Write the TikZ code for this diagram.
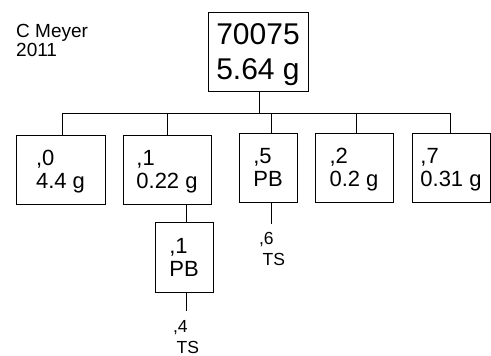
\documentclass[tikz,border=0pt]{standalone}
\usepackage{fontspec}
\setmainfont{Liberation Sans}
\begin{document}
\begin{tikzpicture}[x=1pt,y=-1pt,
  box/.style={draw, line width=1pt, inner sep=0pt, align=left, text depth=0pt, font=\fontsize{22}{23}\selectfont},
  lbl/.style={inner sep=0pt, align=left, text depth=0pt, font=\fontsize{17.5}{21}\selectfont},
  wire/.style={line width=1pt}]
\useasboundingbox (0,0) rectangle (491,356);
\node[anchor=north west, inner sep=0pt, align=left, font=\fontsize{19}{19}\selectfont] (cm) at (16,24) {C Meyer\\2011};
\node[box, minimum width=100pt, minimum height=79pt, font=\fontsize{30}{35}\selectfont] (top) at (258,52) {70075\\5.64 g};
\node[box, minimum width=89pt, minimum height=69pt] (b0) at (60.5,169.5) {,0\\4.4 g};
\node[box, minimum width=88pt, minimum height=69pt] (b1) at (167,169.5) {,1\\0.22 g};
\node[box, minimum width=58pt, minimum height=69pt] (b5) at (268,167.5) {,5\\PB};
\node[box, minimum width=78pt, minimum height=69pt] (b2) at (354,167.5) {,2\\0.2 g};
\node[box, minimum width=78pt, minimum height=69pt] (b7) at (451,167.5) {,7\\0.31 g};
\node[box, minimum width=58pt, minimum height=70pt] (s1) at (184,257) {,1\\PB};
\node[lbl] (t6) at (272,248.5) {,6\\\hspace{3.5pt}TS};
\node[lbl] (t4) at (186,336.5) {,4\\\hspace{3.5pt}TS};
\coordinate (bl) at (62,113);
\coordinate (br) at (450,113);
\coordinate (e6) at (271.5,223.5);
\coordinate (e4) at (186,311);
\draw[wire] (top.south -| 259,0) -- (259,113);
\draw[wire] (bl) -- (br);
\draw[wire] (bl) -- (bl |- b0.north);
\draw[wire] (b1.north |- bl) -- (b1.north);
\draw[wire] ([xshift=3pt]b5.north |- bl) -- ([xshift=3pt]b5.north);
\draw[wire] ([xshift=2pt]b2.north |- bl) -- ([xshift=2pt]b2.north);
\draw[wire] (br) -- (br |- b7.north);
\draw[wire] ([xshift=2pt]s1.north |- b1.south) -- ([xshift=2pt]s1.north);
\draw[wire] (b5.south -| e6) -- (e6);
\draw[wire] (s1.south -| e4) -- (e4);
\end{tikzpicture}
\end{document}
